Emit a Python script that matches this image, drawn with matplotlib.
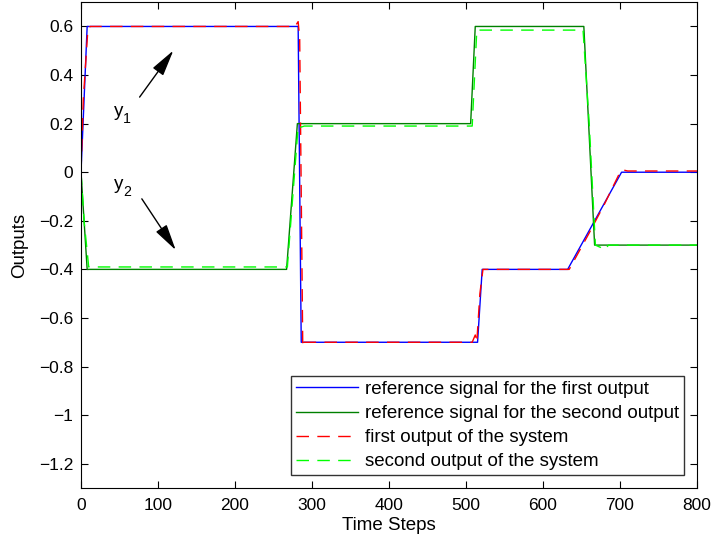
import matplotlib.pyplot as plt

plt.rcParams['font.family'] = ['Liberation Sans', 'DejaVu Sans']

# reference signals (breakpoints)
t_ref1 = [0, 8, 282, 286, 515, 521, 632, 702, 800]
y_ref1 = [0, 0.6, 0.6, -0.7, -0.7, -0.4, -0.4, 0.0, 0.0]
t_ref2 = [0, 8, 267, 281, 506, 512, 653, 667, 800]
y_ref2 = [0, -0.4, -0.4, 0.2, 0.2, 0.6, 0.6, -0.3, -0.3]

# system outputs
t_out1 = [0, 3, 9, 12, 278, 282, 284, 288, 290, 508, 512, 514, 518, 522, 525, 634, 660, 680, 700, 703, 710, 800]
y_out1 = [0, 0.3, 0.59, 0.6, 0.6, 0.62, 0.55, -0.72, -0.7, -0.7, -0.67, -0.7, -0.5, -0.4, -0.4, -0.4, -0.25, -0.13, 0.0, 0.01, 0.005, 0.005]
t_out2 = [0, 4, 10, 14, 268, 282, 285, 290, 508, 514, 518, 652, 660, 668, 675, 680, 685, 800]
y_out2 = [0, -0.2, -0.39, -0.39, -0.39, 0.19, 0.185, 0.19, 0.19, 0.585, 0.585, 0.585, 0.2, -0.3, -0.31, -0.32, -0.3, -0.3]

FS = 13.5
TICK_FS = 12.5
DASH = (0, (9, 6))

fig = plt.figure(figsize=(7.13, 5.42), dpi=100)
ax = fig.add_axes([0.1136, 0.0996, 0.864, 0.8964])

ax.plot(t_ref1, y_ref1, color='#0000ff', lw=1, label='reference signal for the first output')
ax.plot(t_ref2, y_ref2, color='#008000', lw=1, label='reference signal for the second output')
ax.plot(t_out1, y_out1, color='#ff0000', lw=1, ls=DASH, label='first output of the system')
ax.plot(t_out2, y_out2, color='#00ff00', lw=1, ls=DASH, label='second output of the system')

ax.annotate('', xy=(122, 0.51), xytext=(74, 0.3),
            arrowprops=dict(arrowstyle='-|>,head_length=0.9,head_width=0.22', color='black', lw=1, mutation_scale=18))
ax.annotate('', xy=(125, -0.33), xytext=(77, -0.1),
            arrowprops=dict(arrowstyle='-|>,head_length=0.9,head_width=0.22', color='black', lw=1, mutation_scale=18))
ax.text(43, 0.25, 'y', fontsize=FS, va='center')
ax.text(55, 0.22, '1', fontsize=FS * 0.75, va='center')
ax.text(43, -0.05, 'y', fontsize=FS, va='center')
ax.text(55, -0.08, '2', fontsize=FS * 0.75, va='center')

ax.set_xlim(0, 800)
ax.set_ylim(-1.3, 0.7)
ax.set_xticks(range(0, 801, 100))
ax.set_yticks([-1.2, -1.0, -0.8, -0.6, -0.4, -0.2, 0, 0.2, 0.4, 0.6])
ax.set_yticklabels(['\u22121.2', '\u22121', '\u22120.8', '\u22120.6', '\u22120.4', '\u22120.2', '0', '0.2', '0.4', '0.6'])
ax.tick_params(direction='in', top=True, right=True, labelsize=TICK_FS, length=5)
ax.tick_params(axis='x', pad=7)
ax.tick_params(axis='y', pad=5.5)
ax.set_xlabel('Time Steps', fontsize=FS, labelpad=3)
ax.set_ylabel('Outputs', fontsize=FS, labelpad=8)

leg = ax.legend(loc='lower right', fontsize=FS, frameon=True, fancybox=False,
                edgecolor='black', handlelength=3.3, borderaxespad=0.7,
                handletextpad=0.4, labelspacing=0.37, borderpad=0.25)
leg.get_frame().set_linewidth(1)

fig.savefig('out.png', dpi=100)
